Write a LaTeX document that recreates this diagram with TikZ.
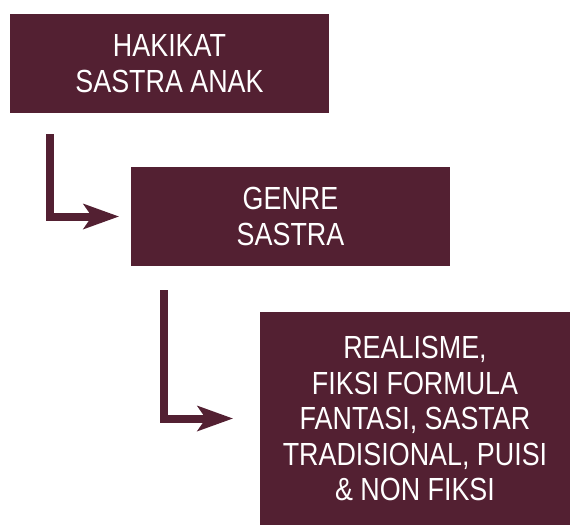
\documentclass[tikz,border=0pt]{standalone}
\usepackage{fontspec}
\setmainfont[FakeStretch=0.84]{Liberation Sans}
\usetikzlibrary{arrows.meta}
\definecolor{weinrot}{RGB}{83,32,50}
\tikzset{
	kasten/.style={fill=weinrot, text=white, align=center, inner sep=0pt,
		minimum width=319pt, minimum height=99pt,
		font=\fontsize{32}{35.5}\selectfont},
	pfeil/.style={draw=weinrot, line width=8pt,
		-{Stealth[length=36pt, width=26pt, inset=9pt, line width=0pt]}}
}
\begin{document}
\begin{tikzpicture}[x=1pt, y=-1pt]
	\useasboundingbox (0,0) rectangle (570,525);
	\node[kasten] (hakikat) at (169.5,63.5) {HAKIKAT\\SASTRA ANAK};%oberer Kasten
	\node[kasten] (genre) at (290.5,216.5) {GENRE\\SASTRA};%mittlerer Kasten
	\node[kasten, minimum width=310pt, minimum height=213pt] (fiksi) at (415,418.5)
		{REALISME,\\FIKSI FORMULA\\FANTASI, SASTAR\\TRADISIONAL, PUISI\\\& NON FIKSI};%unterer Kasten

	%%%%%%
	%Pfeile
	\coordinate (s1) at (50,134);
	\coordinate (s2) at (164,290);
	\draw[pfeil, shorten >=12pt] (s1) |- (genre.west);
	\draw[pfeil, shorten >=27pt] (s2) |- (fiksi.west);
\end{tikzpicture}
\end{document}
